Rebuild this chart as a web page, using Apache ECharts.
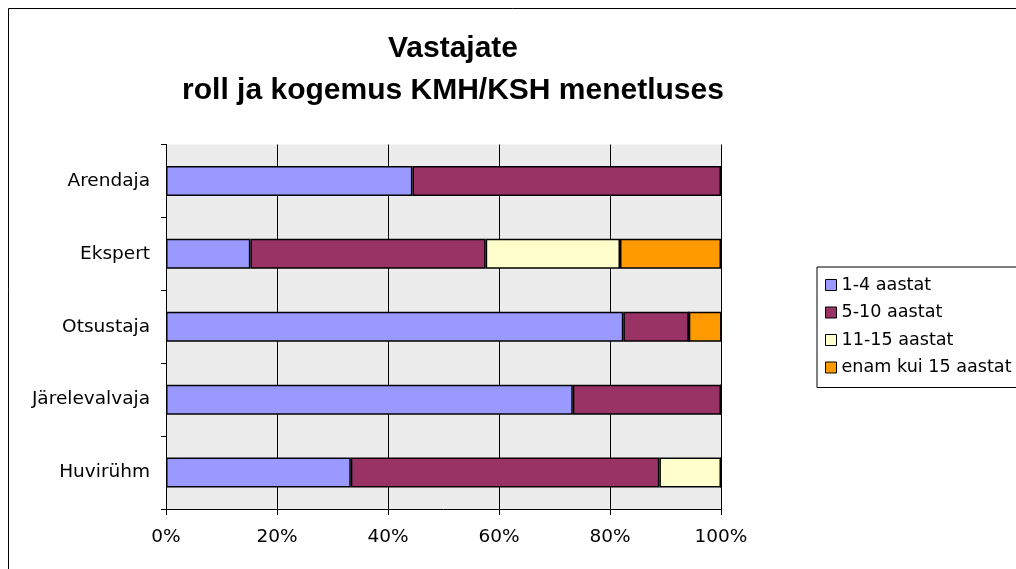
<!DOCTYPE html>
<html><head><meta charset="utf-8">
<script src="https://cdn.jsdelivr.net/npm/echarts@6/dist/echarts.min.js"></script>
<style>html,body{margin:0;padding:0;background:#fff}#c{width:1016px;height:569px}</style>
</head><body><div id="c"></div>
<script>
const categories = ['Arendaja','Ekspert','Otsustaja','Järelevalvaja','Huvirühm'];
const seriesNames = ['1-4 aastat','5-10 aastat','11-15 aastat','enam kui 15 aastat'];
const s1 = [44.4, 15.2, 82.4, 73.3, 33.3];
const s2 = [55.6, 42.4, 11.8, 26.7, 55.6];
const s3 = [0, 24.2, 0, 0, 11.1];
const s4 = [0, 18.2, 5.9, 0, 0];
const colors = ['#9999ff','#993366','#ffffcc','#ff9900'];
const xTicks = [0,20,40,60,80,100];

const labelFont = 'DejaVu Sans, Verdana, sans-serif';
const titleFont = 'Liberation Sans, Arial, sans-serif';
const chart = echarts.init(document.getElementById('c'));
const data = [s1,s2,s3,s4];
chart.setOption({
  animation:false,
  textStyle:{fontFamily:labelFont},
  title:{text:'Vastajate\nroll ja kogemus KMH/KSH menetluses',left:448,top:23,textAlign:'center',
    textStyle:{fontFamily:titleFont,fontSize:30,fontWeight:'bold',color:'#000',lineHeight:42}},
  graphic:[{type:'rect',shape:{x:8.5,y:8.5,width:1100,height:700},style:{fill:'none',stroke:'#000',lineWidth:1},silent:true}],
  legend:{orient:'vertical',left:817,top:267,itemWidth:11,itemHeight:11,itemGap:9.5,
    padding:[9,20,11,8],borderColor:'#000',borderWidth:1,backgroundColor:'#fff',
    icon:'rect',
    textStyle:{fontFamily:labelFont,fontSize:17.6,lineHeight:18,color:'#000'},
    itemStyle:{borderColor:'#000',borderWidth:1},
    data:seriesNames},
  grid:{left:166,right:295,top:144.5,bottom:60,show:true,backgroundColor:'#ececec',borderWidth:0},
  xAxis:{type:'value',min:0,max:100,interval:20,
    axisLine:{show:true,lineStyle:{color:'#000'}},
    axisTick:{show:true,length:6,lineStyle:{color:'#000'}},
    splitLine:{show:true,lineStyle:{color:'#000',width:1}},
    axisLabel:{formatter:v=>xTicks.includes(v)?v+'%':'',color:'#000',fontSize:18.5,fontFamily:labelFont,margin:19}},
  yAxis:{type:'category',data:categories,inverse:true,
    axisLine:{show:true,lineStyle:{color:'#000'}},
    axisTick:{show:true,length:5,alignWithLabel:false,lineStyle:{color:'#000'}},
    axisLabel:{color:'#000',fontSize:18.5,fontFamily:labelFont,margin:16}},
  series:seriesNames.map((n,i)=>({name:n,type:'bar',stack:'t',barWidth:30,
    itemStyle:{color:colors[i],borderColor:'#000',borderWidth:1.5},
    data:data[i]}))
});
</script></body></html>
